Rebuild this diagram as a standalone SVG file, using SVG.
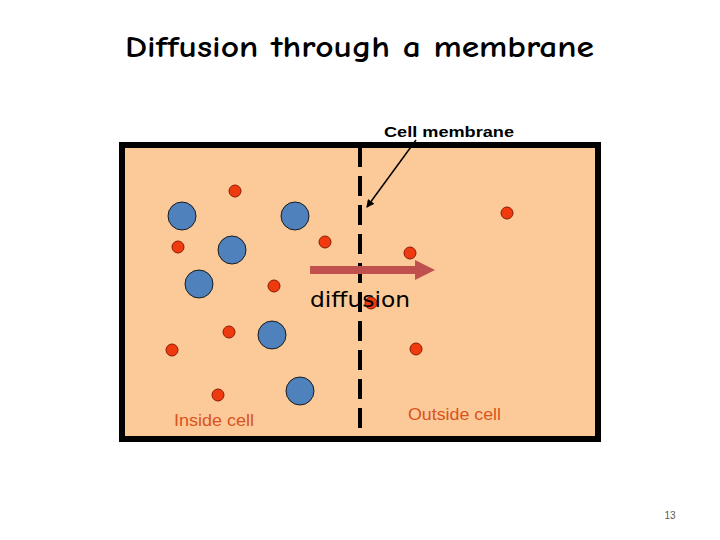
<svg xmlns="http://www.w3.org/2000/svg" width="720" height="540" viewBox="0 0 720 540">
<style>
.b{fill:#4f81bd;stroke:#1a1a1a;stroke-width:1}
.r{fill:#ee3a0e;stroke:#8a1a00;stroke-width:1}
.t{font-family:"Liberation Sans",Arial,sans-serif}
</style>
<defs><marker id="ah" markerWidth="8" markerHeight="8" refX="7" refY="4" orient="auto" markerUnits="userSpaceOnUse"><path d="M0,0 L8,4 L0,8 Z" fill="#000"/></marker></defs>
<rect width="720" height="540" fill="#fff"/>
<text x="125" y="57" textLength="469" lengthAdjust="spacingAndGlyphs" font-family="'Comic Neue','DejaVu Sans',sans-serif" font-weight="bold" font-size="30" fill="#000">Diffusion through a membrane</text>
<g id="cell"><rect x="122" y="145" width="476" height="294" fill="#fcca98" stroke="#000" stroke-width="6"/></g>
<g id="membrane"><line x1="360" y1="147" x2="360" y2="437" stroke="#000" stroke-width="4" stroke-dasharray="20,9"/></g>
<g id="molecules">
<circle class="b" cx="182" cy="216" r="14"/><circle class="b" cx="295" cy="216" r="14"/><circle class="b" cx="232" cy="250" r="14"/><circle class="b" cx="199" cy="284" r="14"/><circle class="b" cx="272" cy="335" r="14"/><circle class="b" cx="300" cy="391" r="14"/>
<circle class="r" cx="235" cy="191" r="6"/><circle class="r" cx="178" cy="247" r="6"/><circle class="r" cx="325" cy="242" r="6"/><circle class="r" cx="274" cy="286" r="6"/><circle class="r" cx="229" cy="332" r="6"/><circle class="r" cx="172" cy="350" r="6"/><circle class="r" cx="218" cy="395" r="6"/><circle class="r" cx="410" cy="253" r="6"/><circle class="r" cx="507" cy="213" r="6"/><circle class="r" cx="416" cy="349" r="6"/><circle class="r" cx="371" cy="303" r="6" fill="#c8401e"/>
</g>
<g id="connectors">
<line x1="310" y1="270" x2="418" y2="270" stroke="#c0504d" stroke-width="8"/>
<path d="M415,260 L435,270 L415,280 Z" fill="#c0504d"/>
<line x1="416" y1="140" x2="367" y2="207" stroke="#000" stroke-width="1.5" marker-end="url(#ah)"/>
</g>
<text class="t" x="384" y="137" textLength="130" lengthAdjust="spacingAndGlyphs" font-weight="bold" font-size="15" fill="#000">Cell membrane</text>
<text x="310" y="307" textLength="100" lengthAdjust="spacingAndGlyphs" font-family="'DejaVu Sans',sans-serif" font-size="21" fill="#000">diffusion</text>
<text class="t" x="174" y="426" textLength="80" lengthAdjust="spacingAndGlyphs" font-size="16" fill="#d9531e">Inside cell</text>
<text class="t" x="408" y="420" textLength="93" lengthAdjust="spacingAndGlyphs" font-size="16" fill="#d9531e">Outside cell</text>
<text class="t" x="670" y="519" text-anchor="middle" font-size="10" fill="#595959">13</text>
</svg>
